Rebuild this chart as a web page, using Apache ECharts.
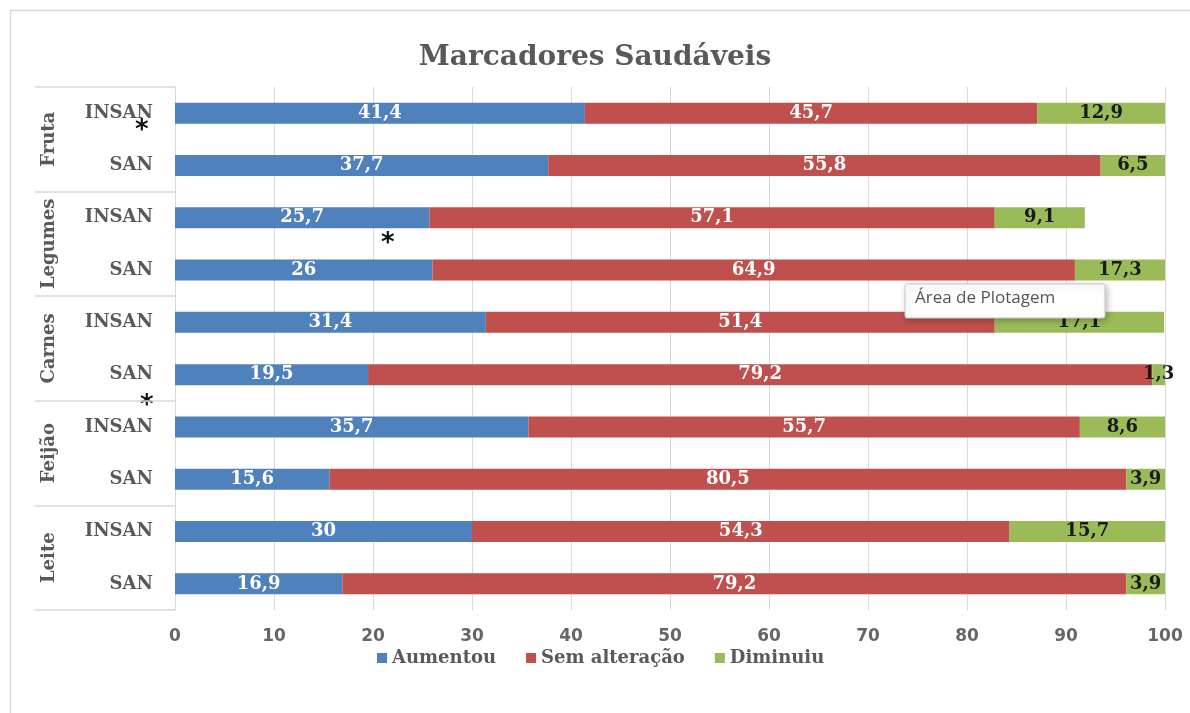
<!DOCTYPE html>
<html>
<head>
<meta charset="utf-8">
<script src="https://cdn.jsdelivr.net/npm/echarts@6/dist/echarts.min.js"></script>
<style>
html,body{margin:0;padding:0;background:#fff;}
#chart{width:1190px;height:713px;}
</style>
</head>
<body>
<div id="chart"></div>
<script>
const groups = ['Fruta', 'Legumes', 'Carnes', 'Feijão', 'Leite'];
const subgroups = ['INSAN', 'SAN'];
const rowLabels = ['INSAN', 'SAN', 'INSAN', 'SAN', 'INSAN', 'SAN', 'INSAN', 'SAN', 'INSAN', 'SAN'];
const seriesNames = ['Aumentou', 'Sem alteração', 'Diminuiu'];
const aumentou = [41.4, 37.7, 25.7, 26, 31.4, 19.5, 35.7, 15.6, 30, 16.9];
const semAlteracao = [45.7, 55.8, 57.1, 64.9, 51.4, 79.2, 55.7, 80.5, 54.3, 79.2];
const diminuiu = [12.9, 6.5, 9.1, 17.3, 17.1, 1.3, 8.6, 3.9, 15.7, 3.9];
const xTicks = [0, 10, 20, 30, 40, 50, 60, 70, 80, 90, 100];

const FONT = 'DejaVu Serif';
const GRAY = '#595959';
const fmt = p => String(p.value).replace('.', ',');

const chart = echarts.init(document.getElementById('chart'));
function makeSeries(name, data, color, labelColor) {
  return {
    name: name,
    type: 'bar',
    stack: 'total',
    data: data,
    barWidth: 21,
    itemStyle: { color: color },
    label: {
      show: true,
      position: 'inside',
      formatter: fmt,
      color: labelColor,
      fontFamily: FONT,
      fontWeight: 'bold',
      fontSize: 18
    },
    emphasis: { disabled: true }
  };
}

chart.setOption({
  backgroundColor: '#ffffff',
  animation: false,
  title: {
    text: 'Marcadores Saudáveis',
    left: 'center',
    top: 39,
    textStyle: { fontFamily: FONT, fontWeight: 'bold', fontSize: 28, color: GRAY }
  },
  legend: {
    data: seriesNames,
    left: 372,
    top: 644,
    itemWidth: 10,
    itemHeight: 10,
    itemGap: 30,
    icon: 'rect',
    textStyle: { fontFamily: FONT, fontWeight: 'bold', fontSize: 18, color: GRAY }
  },
  grid: { left: 175, right: 25, top: 87, bottom: 103, containLabel: false },
  xAxis: {
    type: 'value',
    min: xTicks[0],
    max: xTicks[xTicks.length - 1],
    interval: 10,
    axisLine: { show: false },
    axisTick: { show: false },
    splitLine: { show: true, lineStyle: { color: '#d9d9d9', width: 1 } },
    axisLabel: { margin: 18, fontFamily: 'DejaVu Sans', fontWeight: 'bold', fontSize: 17, color: '#666666' }
  },
  yAxis: [
    {
      type: 'category',
      data: rowLabels,
      inverse: true,
      axisLine: { show: true, lineStyle: { color: '#d9d9d9' } },
      axisTick: { show: false },
      axisLabel: { interval: 0, margin: 22, fontFamily: FONT, fontWeight: 'bold', fontSize: 18, color: GRAY }
    },
    {
      type: 'category',
      data: groups,
      inverse: true,
      position: 'left',
      offset: 140,
      axisLine: { show: false },
      axisTick: { show: true, interval: 0, inside: true, length: 140, lineStyle: { color: '#d9d9d9', width: 1.5 } },
      axisLabel: { interval: 0, inside: true, rotate: 90, margin: 5, fontFamily: FONT, fontWeight: 'bold', fontSize: 18, color: GRAY }
    }
  ],
  series: [
    makeSeries(seriesNames[0], aumentou, '#4F81BD', '#ffffff'),
    makeSeries(seriesNames[1], semAlteracao, '#C0504D', '#ffffff'),
    makeSeries(seriesNames[2], diminuiu, '#9BBB59', '#1a1a1a')
  ],
  graphic: [
    { type: 'rect', silent: true, z: -10, shape: { x: 10.5, y: 10.5, width: 1200, height: 720 },
      style: { fill: 'none', stroke: '#d9d9d9', lineWidth: 1.5 } },
    { type: 'text', left: 135, top: 118, style: { text: '*', font: 'bold 26px "DejaVu Sans"', fill: '#111' } },
    { type: 'text', left: 381, top: 231, style: { text: '*', font: 'bold 26px "DejaVu Sans"', fill: '#111' } },
    { type: 'text', left: 140, top: 393, style: { text: '*', font: 'bold 26px "DejaVu Sans"', fill: '#111' } },
    { type: 'rect', z: 100, shape: { x: 905, y: 284, width: 200, height: 34, r: 2 },
      style: { fill: '#ffffff', stroke: '#c8c8c8', lineWidth: 1, shadowBlur: 6, shadowColor: 'rgba(0,0,0,0.25)', shadowOffsetX: 2, shadowOffsetY: 2 } },
    { type: 'text', z: 101, left: 915, top: 290, style: { text: 'Área de Plotagem', font: '17px "Open Sans"', fill: '#555555' } }
  ]
});
</script>
</body>
</html>
